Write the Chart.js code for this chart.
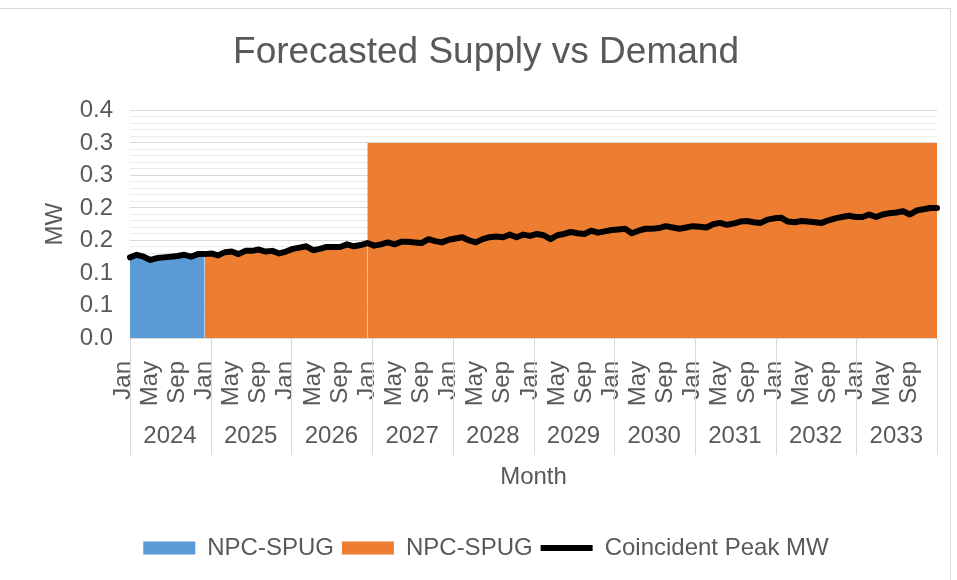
<!DOCTYPE html>
<html>
<head>
<meta charset="utf-8">
<script src="https://cdn.jsdelivr.net/npm/chart.js@4.4.1/dist/chart.umd.min.js"></script>
<style>
  body { margin: 0; background: #fff; }
  #wrap { position: relative; width: 957px; height: 580px; overflow: hidden; }
  #frame { position: absolute; left: -1px; top: 8px; width: 951px; height: 600px;
           border-top: 1px solid #d9d9d9; border-right: 1px solid #d9d9d9; }
  #myChart { position: absolute; left: 0; top: 0; }
</style>
</head>
<body>
<div id="wrap">
  <div id="frame"></div>
  <canvas id="myChart" width="957" height="580"></canvas>
</div>
<script>
const monthNames = ['Jan','Feb','Mar','Apr','May','Jun','Jul','Aug','Sep','Oct','Nov','Dec'];
const years = ['2024','2025','2026','2027','2028','2029','2030','2031','2032','2033'];

// Coincident peak, MW, Jan 2024 .. Dec 2033
const peakMW = [
  0.124, 0.128, 0.125, 0.120, 0.123, 0.124, 0.125, 0.126, 0.128, 0.125, 0.129, 0.129,
  0.130, 0.127, 0.132, 0.133, 0.129, 0.134, 0.134, 0.136, 0.133, 0.134, 0.130, 0.133,
  0.137, 0.139, 0.141, 0.135, 0.137, 0.140, 0.140, 0.140, 0.144, 0.141, 0.143, 0.146,
  0.142, 0.144, 0.147, 0.144, 0.148, 0.148, 0.147, 0.146, 0.152, 0.149, 0.147, 0.151,
  0.153, 0.155, 0.150, 0.147, 0.152, 0.155, 0.156, 0.155, 0.159, 0.155, 0.159, 0.157,
  0.160, 0.158, 0.152, 0.158, 0.160, 0.163, 0.161, 0.160, 0.165, 0.162, 0.164, 0.166,
  0.167, 0.168, 0.161, 0.165, 0.168, 0.168, 0.169, 0.172, 0.170, 0.168, 0.170, 0.172,
  0.171, 0.170, 0.175, 0.177, 0.174, 0.176, 0.179, 0.180, 0.178, 0.177, 0.182, 0.184,
  0.185, 0.179, 0.178, 0.180, 0.179, 0.178, 0.177, 0.181, 0.184, 0.186, 0.188, 0.186,
  0.186, 0.190, 0.186, 0.190, 0.192, 0.193, 0.195, 0.190, 0.196, 0.198, 0.200, 0.200
];

// NPC-SPUG supply: blue block Jan-Dec 2024
const supplyBlue = [0.124, 0.128, 0.125, 0.120, 0.123, 0.124, 0.125, 0.126, 0.128, 0.125, 0.129, 0.129];
// orange block: Dec 2024 .. Dec 2026 follows the peak, then flat from Dec 2026
const supplyOrangeEarly = [
  0.129,
  0.130, 0.127, 0.132, 0.133, 0.129, 0.134, 0.134, 0.136, 0.133, 0.134, 0.130, 0.133,
  0.137, 0.139, 0.141, 0.135, 0.137, 0.140, 0.140, 0.140, 0.144, 0.141, 0.143, 0.146
];
const supplyOrangeLate = 0.3;
const orangeStart = 11;
const orangeStep = 35;

const months = [];
for (let i = 0; i < peakMW.length; i++) months.push(monthNames[i % 12]);

// full-length series for the library (nulls where a block has no value)
const blueData = months.map((m, i) => i < supplyBlue.length ? supplyBlue[i] : null);
const orangeLowData = months.map((m, i) => (i >= orangeStart && i <= orangeStep) ? supplyOrangeEarly[i - orangeStart] : null);
const orangeHighData = months.map((m, i) => i >= orangeStep ? supplyOrangeLate : null);

const textColor = '#595959';
Chart.defaults.font.family = "'Liberation Sans', Arial, sans-serif";
Chart.defaults.color = textColor;

// vertical separators of the year row
const yearDividers = {
  id: 'yearDividers',
  afterDraw(chart) {
    const s = chart.scales.x2;
    const ctx = chart.ctx;
    ctx.save();
    ctx.strokeStyle = '#d9d9d9';
    ctx.lineWidth = 1;
    s.ticks.forEach(t => {
      const px = Math.round(s.getPixelForValue(t.value)) + 0.5;
      ctx.beginPath();
      ctx.moveTo(px, chart.chartArea.bottom);
      ctx.lineTo(px, chart.chartArea.bottom + 117);
      ctx.stroke();
    });
    ctx.restore();
  }
};

// keep rotated / offset labels from eating into the plot width
function noSidePadding(s) {
  s.paddingLeft = 0;
  s.paddingRight = 0;
}

const ctx = document.getElementById('myChart');
new Chart(ctx, {
  type: 'line',
  data: {
    labels: months,
    datasets: [
      { label: 'NPC-SPUG', data: blueData, backgroundColor: '#5B9BD5', borderColor: 'rgba(0,0,0,0)',
        borderWidth: 0, fill: 'origin', pointRadius: 0, pointStyle: 'rect' },
      { label: 'NPC-SPUG', data: orangeLowData, backgroundColor: '#ED7D31', borderColor: 'rgba(0,0,0,0)',
        borderWidth: 0, fill: 'origin', pointRadius: 0, pointStyle: 'rect' },
      { label: 'NPC-SPUG', data: orangeHighData, backgroundColor: '#ED7D31', borderColor: 'rgba(0,0,0,0)',
        borderWidth: 0, fill: 'origin', pointRadius: 0, pointStyle: 'rect' },
      { label: 'Coincident Peak MW', data: peakMW, borderColor: '#000000', backgroundColor: '#000000',
        borderWidth: 6, fill: false, pointRadius: 0, pointStyle: 'line', order: -1,
        borderJoinStyle: 'round', borderCapStyle: 'round', tension: 0 }
    ]
  },
  options: {
    responsive: false,
    animation: false,
    events: [],
    layout: { padding: { left: 35, right: 20, top: 0, bottom: 10 } },
    plugins: {
      title: {
        display: true, text: 'Forecasted Supply vs Demand', color: textColor,
        font: { size: 37, weight: 'normal' }, padding: { top: 31, bottom: 35 }
      },
      legend: {
        position: 'bottom',
        labels: {
          usePointStyle: true, pointStyleWidth: 52, boxHeight: 13, padding: 8,
          color: textColor, font: { size: 24 },
          filter: item => item.datasetIndex !== 2,
          sort: (a, b) => a.datasetIndex - b.datasetIndex
        }
      },
      tooltip: { enabled: false }
    },
    scales: {
      x: {
        type: 'category',
        offset: false,
        grid: { display: false },
        border: { display: true, color: '#d9d9d9', width: 1 },
        ticks: {
          autoSkip: false, maxRotation: 90, minRotation: 90, padding: 15, labelOffset: -7,
          font: { size: 24 }, color: textColor,
          callback: (v, i) => i % 4 === 0 ? months[i] : ''
        },
        afterFit: s => { s.height = 75; noSidePadding(s); }
      },
      x2: {
        type: 'linear', position: 'bottom', min: 0, max: 120,
        grid: { display: false },
        border: { display: false },
        ticks: {
          stepSize: 12, autoSkip: false, maxRotation: 0, padding: 1, labelOffset: 40,
          font: { size: 24 }, color: textColor,
          callback: v => years[v / 12] || ''
        },
        title: { display: true, text: 'Month', color: textColor, font: { size: 24 }, padding: { top: 0, bottom: 36 } },
        afterFit: s => { s.height = 115; noSidePadding(s); }
      },
      y: {
        min: 0, max: 0.35,
        border: { display: false },
        grid: { drawTicks: false, color: c => c.index % 5 === 0 ? '#d9d9d9' : '#ebebeb' },
        ticks: {
          stepSize: 0.01, autoSkip: false, padding: 17, font: { size: 24 }, color: textColor,
          callback: (v, i) => i % 5 === 0 ? (Math.round(v * 10 + 1e-9) / 10).toFixed(1) : ''
        },
        title: { display: true, text: 'MW', color: textColor, font: { size: 24 }, padding: { top: 6 } },
        afterFit: s => { s.width = 95; }
      }
    }
  },
  plugins: [yearDividers]
});
</script>
</body>
</html>
